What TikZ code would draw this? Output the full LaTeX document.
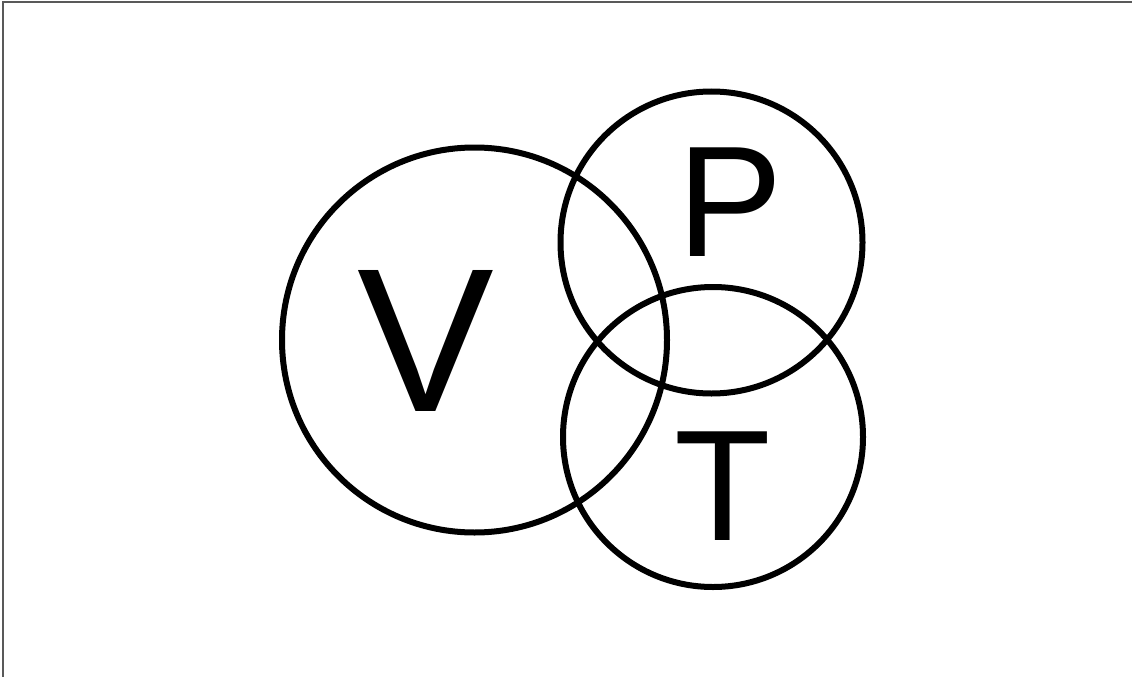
\documentclass[tikz,border=0pt]{standalone}
\usepackage{fontspec}
\setmainfont{Liberation Sans}
\usetikzlibrary{positioning}
\tikzset{
  ring/.style={circle, draw=black, line width=6pt, inner sep=0pt},
  bigletter/.style={inner sep=0pt, text=black, font=\fontsize{205}{205}\selectfont},
  letter/.style={inner sep=0pt, text=black, font=\fontsize{158}{158}\selectfont},
  frame/.style={draw=black!65, line width=2pt}
}
\begin{document}
\begin{tikzpicture}[x=1pt, y=-1pt]
  \useasboundingbox (0,0) rectangle (1132,677);
  % thin frame on top and left
  \coordinate (ftr) at (1132,2);
  \coordinate (ftl) at (3,2);
  \coordinate (fbl) at (3,677);
  \draw[frame] (ftr) -- (ftl) -- (fbl);

  % the three circles
  \node[ring, minimum size=385pt] (vcirc) at (474.5,340) {};
  \node[ring, minimum size=302pt] (pcirc) at (711.5,242.5) {};
  \node[ring, minimum size=300pt] (tcirc) at (713,437) {};

  % letters
  \node[bigletter] (vlab) at (426,340.5) {V};
  \node[letter] (plab) at (730,202.5) {P};
  \node[letter] (tlab) at (723,486) {T};
\end{tikzpicture}
\end{document}
